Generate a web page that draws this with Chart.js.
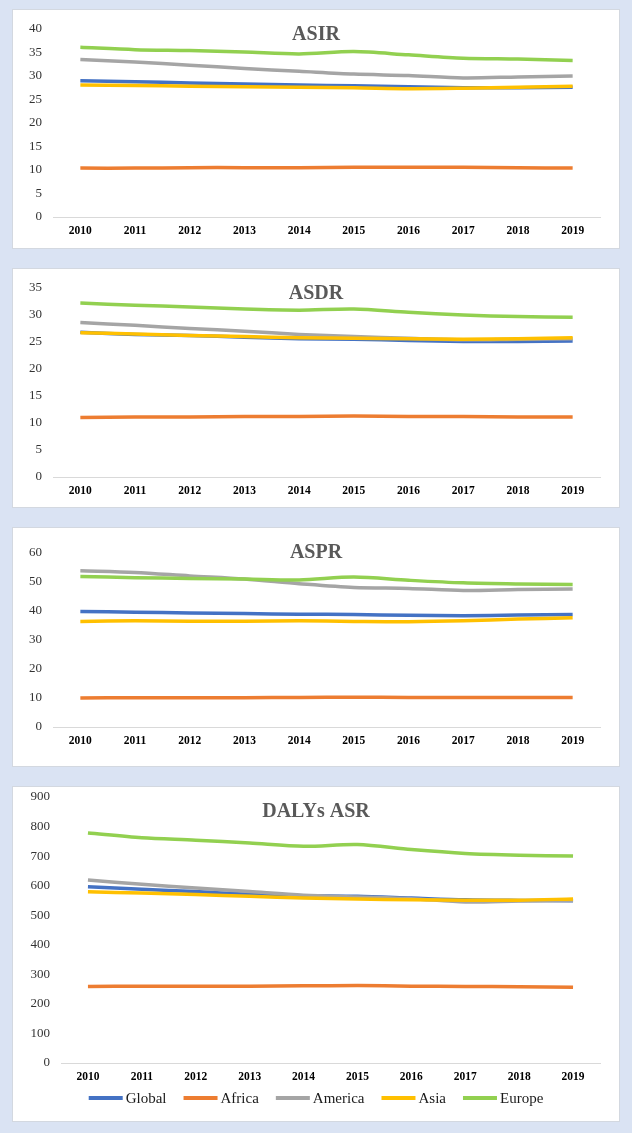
<!DOCTYPE html>
<html>
<head>
<meta charset="utf-8">
<script src="https://cdn.jsdelivr.net/npm/chart.js@4.4.1/dist/chart.umd.min.js"></script>
<style>
body { margin: 0; background: #dae3f3; width: 632px; height: 1133px; position: relative; overflow: hidden; }
.painel { position: absolute; left: 13px; width: 606px; background: #fff; box-shadow: 0 0 0 1px #d3d8e0; }
canvas { display: block; }
</style>
</head>
<body>
<div class="painel" style="top:10px;height:238px"><canvas id="g1" width="606" height="238"></canvas></div>
<div class="painel" style="top:269px;height:238px"><canvas id="g2" width="606" height="238"></canvas></div>
<div class="painel" style="top:528px;height:238px"><canvas id="g3" width="606" height="238"></canvas></div>
<div class="painel" style="top:787px;height:334px"><canvas id="g4" width="606" height="334"></canvas></div>
<script>
const anos = ['2010', '2011', '2012', '2013', '2014', '2015', '2016', '2017', '2018', '2019'];
const regioes = ['Global', 'Africa', 'America', 'Asia', 'Europe'];
const cores = ['#4472C4', '#ED7D31', '#A5A5A5', '#FFC000', '#92D050'];

const asirGlobal  = [29.0, 28.8, 28.5, 28.3, 28.1, 27.9, 27.7, 27.5, 27.5, 27.6];
const asirAfrica  = [10.4, 10.4, 10.5, 10.5, 10.5, 10.6, 10.6, 10.6, 10.5, 10.4];
const asirAmerica = [33.5, 33.0, 32.3, 31.6, 31.0, 30.4, 30.1, 29.6, 29.8, 30.0];
const asirAsia    = [28.1, 28.0, 27.8, 27.7, 27.6, 27.5, 27.3, 27.4, 27.6, 27.8];
const asirEurope  = [36.1, 35.6, 35.4, 35.1, 34.7, 35.2, 34.5, 33.8, 33.6, 33.3];

const asdrGlobal  = [26.8, 26.4, 26.2, 25.9, 25.6, 25.5, 25.3, 25.1, 25.1, 25.2];
const asdrAfrica  = [11.0, 11.1, 11.1, 11.2, 11.2, 11.3, 11.2, 11.2, 11.1, 11.1];
const asdrAmerica = [28.6, 28.1, 27.5, 27.0, 26.4, 26.0, 25.7, 25.4, 25.5, 25.6];
const asdrAsia    = [26.7, 26.5, 26.2, 26.0, 25.8, 25.7, 25.6, 25.5, 25.6, 25.8];
const asdrEurope  = [32.2, 31.8, 31.5, 31.1, 30.9, 31.1, 30.5, 30.0, 29.7, 29.6];

const asprGlobal  = [39.8, 39.6, 39.3, 39.1, 38.9, 38.8, 38.5, 38.4, 38.6, 38.8];
const asprAfrica  = [10.0, 10.1, 10.1, 10.1, 10.2, 10.3, 10.2, 10.2, 10.2, 10.2];
const asprAmerica = [53.9, 53.3, 52.1, 51.0, 49.4, 48.1, 47.8, 47.1, 47.4, 47.6];
const asprAsia    = [36.4, 36.6, 36.5, 36.5, 36.6, 36.4, 36.3, 36.6, 37.2, 37.7];
const asprEurope  = [51.9, 51.5, 51.2, 51.0, 50.7, 51.7, 50.6, 49.7, 49.3, 49.1];

const dalyGlobal  = [596, 588, 580, 571, 566, 564, 558, 552, 550, 549];
const dalyAfrica  = [259, 260, 260, 260, 261, 262, 260, 259, 258, 256];
const dalyAmerica = [619, 605, 592, 580, 568, 562, 556, 545, 548, 550];
const dalyAsia    = [579, 575, 570, 564, 558, 555, 552, 551, 551, 555];
const dalyEurope  = [778, 762, 754, 744, 733, 739, 722, 709, 703, 700];

const titulos = ['ASIR', 'ASDR', 'ASPR', 'DALYs ASR'];
const yMax = [40, 35, 60, 900];
const yPasso = [5, 5, 10, 100];

// titulo desenhado dentro da area do grafico, como no Excel
const tituloPlugin = {
    id: 'titulo',
    afterDraw(chart, args, opts) {
        const ctx = chart.ctx;
        ctx.save();
        ctx.font = 'bold 20px "Liberation Serif"';
        ctx.fillStyle = '#595959';
        ctx.textAlign = 'center';
        ctx.textBaseline = 'middle';
        ctx.fillText(opts.text, chart.width / 2, opts.y);
        ctx.restore();
    }
};

// legenda estilo Excel: traco grosso colado no texto
const legendaPlugin = {
    id: 'legenda',
    afterDraw(chart, args, opts) {
        if (!opts.y) return;
        const ctx = chart.ctx;
        ctx.save();
        ctx.font = '15px "Liberation Serif"';
        const itens = chart.data.datasets.map(d => ({
            texto: d.label,
            cor: d.borderColor,
            larg: ctx.measureText(d.label).width
        }));
        const total = itens.reduce((s, it) => s + 34 + 3 + it.larg, 0) + 17 * (itens.length - 1);
        let x = (chart.width - total) / 2;
        ctx.textBaseline = 'middle';
        ctx.textAlign = 'left';
        itens.forEach(it => {
            ctx.fillStyle = it.cor;
            ctx.fillRect(x, opts.y - 2, 34, 4);
            x += 37;
            ctx.fillStyle = '#1a1a1a';
            ctx.fillText(it.texto, x, opts.y + 1);
            x += it.larg + 17;
        });
        ctx.restore();
    }
};

function criarGrafico(id, idx, series, cfg) {
    const ctx = document.getElementById(id).getContext('2d');
    return new Chart(ctx, {
        type: 'line',
        data: {
            labels: anos,
            datasets: series.map((dados, i) => ({
                label: regioes[i],
                data: dados,
                borderColor: cores[i],
                backgroundColor: cores[i],
                borderWidth: 3.5,
                pointRadius: 0,
                tension: 0.3,
                order: 5 - i
            }))
        },
        options: {
            responsive: false,
            animation: false,
            layout: { padding: { top: cfg.topo, right: 19, left: 0, bottom: 0 } },
            plugins: {
                tooltip: { enabled: false },
                legend: { display: false },
                titulo: { text: titulos[idx], y: 25 },
                legenda: { y: cfg.legendaY }
            },
            scales: {
                x: {
                    offset: true,
                    grid: { display: false, drawTicks: false },
                    border: { display: true, color: '#d9d9d9', width: 1 },
                    ticks: {
                        padding: 7,
                        maxRotation: 0,
                        color: '#000',
                        font: { family: 'Liberation Serif', size: 11.5, weight: 'bold' }
                    },
                    afterFit: (s) => { s.height = cfg.altX; }
                },
                y: {
                    min: 0,
                    max: yMax[idx],
                    grid: { display: false, drawTicks: false },
                    border: { display: false },
                    ticks: {
                        stepSize: yPasso[idx],
                        padding: 11,
                        color: '#333',
                        font: { family: 'Liberation Serif', size: 13 }
                    },
                    // o padding dos ticks nao deve empurrar a area do grafico
                    afterFit: (s) => {
                        s.width = cfg.largY;
                        s.paddingTop = 8;
                        s.paddingBottom = 8;
                    }
                }
            }
        },
        plugins: [tituloPlugin, legendaPlugin]
    });
}

criarGrafico('g1', 0, [asirGlobal, asirAfrica, asirAmerica, asirAsia, asirEurope],
    { topo: 19, altX: 31, largY: 40, legendaY: 0 });
criarGrafico('g2', 1, [asdrGlobal, asdrAfrica, asdrAmerica, asdrAsia, asdrEurope],
    { topo: 19, altX: 30, largY: 40, legendaY: 0 });
criarGrafico('g3', 2, [asprGlobal, asprAfrica, asprAmerica, asprAsia, asprEurope],
    { topo: 25, altX: 39, largY: 40, legendaY: 0 });
criarGrafico('g4', 3, [dalyGlobal, dalyAfrica, dalyAmerica, dalyAsia, dalyEurope],
    { topo: 10, altX: 58, largY: 48, legendaY: 311 });
</script>
</body>
</html>
